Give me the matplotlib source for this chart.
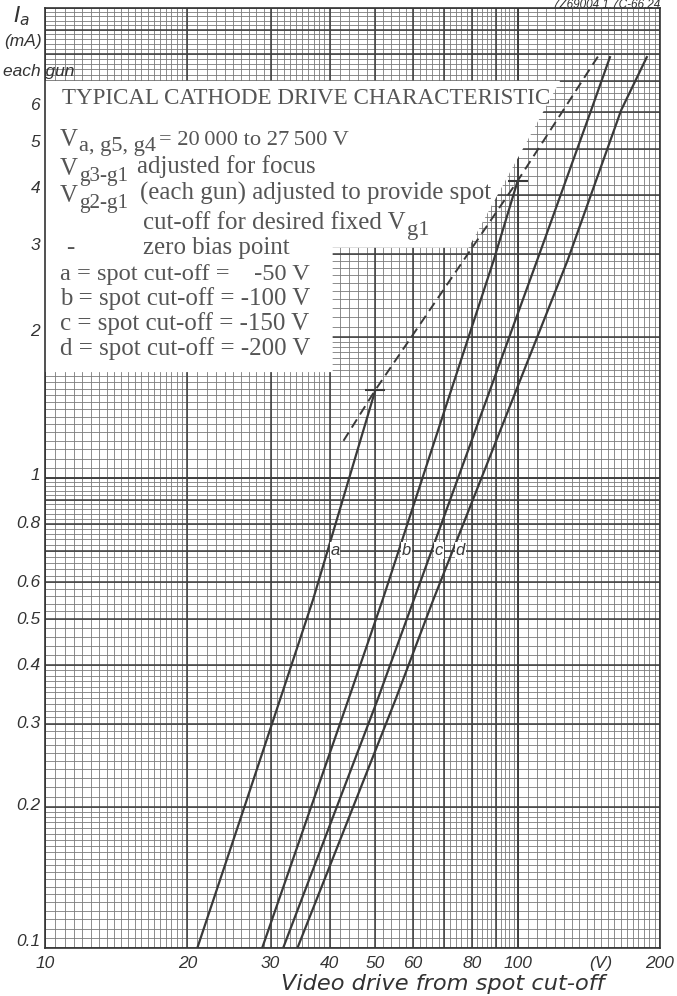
import matplotlib
matplotlib.use('Agg')
from matplotlib import pyplot as plt
from matplotlib import transforms
import numpy as np

W, H = 677, 996

# cathode drive curves: video drive (V) -> Ia (mA)
a_v = [21.0, 26.3, 31.4, 36.9, 50.0]
a_i = [0.1, 0.197, 0.337, 0.551, 1.54]
b_v = [28.8, 43.8, 51.8, 89.0, 100.0]
b_i = [0.1, 0.337, 0.551, 2.91, 4.29]
c_v = [31.9, 50.5, 60.3, 110.0, 143.0, 157.0]
c_i = [0.1, 0.337, 0.551, 2.91, 6.06, 7.9]
d_v = [34.2, 55.1, 66.3, 127.6, 165.5, 188.0]
d_i = [0.1, 0.337, 0.551, 2.91, 6.06, 7.9]
curve_names = ['a', 'b', 'c', 'd']

# zero bias locus (dashed) and the zero bias points on a and b
zb_v = [42.8, 50.0, 100.0, 148.0]
zb_i = [1.2, 1.54, 4.29, 7.9]
zb_pts_v = [50.0, 100.0]
zb_pts_i = [1.54, 4.29]

xticks = [10, 20, 30, 40, 50, 60, 80, 100, 150, 200]
xlabels = ['10', '20', '30', '40', '50', '60', '80', '100', '(V)', '200']
yticks = [0.1, 0.2, 0.3, 0.4, 0.5, 0.6, 0.8, 1, 2, 3, 4, 5, 6]
ylabels = ['0.1', '0.2', '0.3', '0.4', '0.5', '0.6', '0.8', '1', '2', '3', '4', '5', '6']

# white panel behind the legend text (V, mA)
box_v = [10, 123, 78.7, 40.6, 40.6, 10]
box_i = [7.0, 7.0, 3.09, 3.09, 1.68, 1.68]

ink = '#3a3a3a'
grey = '#555555'

fig = plt.figure(figsize=(W / 100, H / 100), dpi=100)
ax = fig.add_axes([45 / W, 1 - 948 / H, 615 / W, 940 / H])
ax.set_xscale('log')
ax.set_yscale('log')
ax.set_xlim(10, 200)
ax.set_ylim(0.1, 10)


def paper(base):
    # log paper subdivisions for one decade
    minor = np.r_[np.arange(1, 2, 0.05), np.arange(2, 4, 0.1), np.arange(4, 10, 0.2)]
    return base * minor, base * np.arange(1, 11)


for base in [10, 100]:
    mn, mj = paper(base)
    ax.vlines(mn, 0.1, 10, color='#7a7a7a', lw=0.6, zorder=1)
    ax.vlines(mj, 0.1, 10, color='#3c3c3c', lw=1.1, zorder=2)
for base in [0.1, 1]:
    mn, mj = paper(base)
    ax.hlines(mn, 10, 200, color='#7a7a7a', lw=0.6, zorder=1)
    ax.hlines(mj, 10, 200, color='#3c3c3c', lw=1.1, zorder=2)

ax.fill(box_v, box_i, color='white', lw=0, zorder=3)

for v, i in [(a_v, a_i), (b_v, b_i), (c_v, c_i), (d_v, d_i)]:
    ax.plot(v, i, color=ink, lw=1.6, zorder=4, solid_capstyle='butt')
ax.plot(zb_v, zb_i, color=ink, lw=1.4, ls=(0, (5, 3)), zorder=4)
ax.plot(zb_pts_v, zb_pts_i, ls='none', marker='_', ms=14, mew=1.5, color=ink, zorder=4)

# curve letters, just right of each curve at 0.7 mA
for name, (v, i) in zip(curve_names, [(a_v, a_i), (b_v, b_i), (c_v, c_i), (d_v, d_i)]):
    xv = 10 ** np.interp(np.log10(0.7), np.log10(i), np.log10(v))
    ax.annotate(name, (xv, 0.7), xytext=(2, 0), textcoords='offset points',
                fontsize=12, style='italic', family='Liberation Sans', color=ink,
                va='center', ha='left', zorder=5,
                bbox=dict(boxstyle='square,pad=0.05', fc='white', ec='none'))

for s in ax.spines.values():
    s.set_color('#333333')
    s.set_linewidth(1.2)
    s.set_zorder(6)

sans = dict(family='Liberation Sans', style='italic', color='#333333')

ax.set_xticks(xticks)
ax.set_xticklabels(xlabels)
ax.set_yticks(yticks)
ax.set_yticklabels([])
ax.minorticks_off()
ax.tick_params(length=0)
ax.tick_params(axis='x', pad=6, labelsize=12.5, labelcolor='#333333')
for t in ax.get_xticklabels():
    t.set_family('Liberation Sans')
    t.set_style('italic')

# y labels drawn by hand: the upper ones sit a little above their lines
ylift = [7, 1, 0, 0, 0, 0, 0, 3, 5, 8, 7, 7, 7]
ytr = transforms.blended_transform_factory(ax.transAxes, ax.transData)
for tick, lab, dy in zip(yticks, ylabels, ylift):
    ax.text(-0.008, tick, lab, ha='right', va='center', fontsize=12.5,
            transform=ytr + transforms.ScaledTranslation(0, dy / 100, fig.dpi_scale_trans),
            **sans)

renderer = fig.canvas.get_renderer()
serif = 'Liberation Serif'


def put(x, y, s, size, **kw):
    kw.setdefault('family', serif)
    kw.setdefault('color', grey)
    return fig.text(x / W, 1 - y / H, s, fontsize=size, va='baseline', **kw)


def right(t):
    return t.get_window_extent(renderer).x1


def fit(t, width):
    w = t.get_window_extent(renderer).width
    t.set_fontsize(t.get_fontsize() * width / w)


# legend block
t = put(62, 104, 'TYPICAL CATHODE DRIVE CHARACTERISTIC', 15)
fit(t, 488)

rows = ['a = spot cut-off =    -50 V', 'b = spot cut-off = -100 V',
        'c = spot cut-off = -150 V', 'd = spot cut-off = -200 V']
for k, r in enumerate(rows):
    t = put(60, 280 + 25 * k, r, 15)
    fit(t, 250)
S = t.get_fontsize()

t = put(60, 146, 'V', S)
t = put(right(t) + 1, 151, 'a, g5, g4', S * 0.9)
put(right(t) + 3, 145, '= 20\u2009000 to 27\u2009500 V', S * 0.9)

t = put(60, 175, 'V', S)
put(right(t) + 1, 181, 'g3-g1', S * 0.85)
put(137, 173, 'adjusted for focus', S)

t = put(60, 202, 'V', S)
put(right(t) + 1, 208, 'g2-g1', S * 0.85)
t = put(140, 200, '(each gun) adjusted to provide spot', S)
fit(t, 352)

t = put(143, 229, 'cut-off for desired fixed V', S)
put(right(t) + 1, 235, 'g1', S * 0.9)

put(66, 254, '-', S)
put(143, 254, 'zero bias point', S)

# axis titles
fig.text(22 / W, 1 - 22 / H, r'$I_a$', fontsize=16, ha='center', va='baseline', color='#333333')
fig.text(23 / W, 1 - 46 / H, '(mA)', fontsize=12.5, ha='center', va='baseline', **sans)
fig.text(3 / W, 1 - 76 / H, 'each gun', fontsize=12.5, ha='left', va='baseline', **sans)
t = fig.text(443 / W, 1 - 990 / H, 'Video drive from spot cut-off', fontsize=13,
             ha='center', va='baseline', family='DejaVu Sans', style='italic',
             color='#333333')
fit(t, 322)

fig.text(660 / W, 1 - 8 / H, '7Z69004 1.7C-66.24', fontsize=8.5, ha='right',
         va='baseline', **sans)

fig.savefig('out.png', dpi=100, facecolor='white')
